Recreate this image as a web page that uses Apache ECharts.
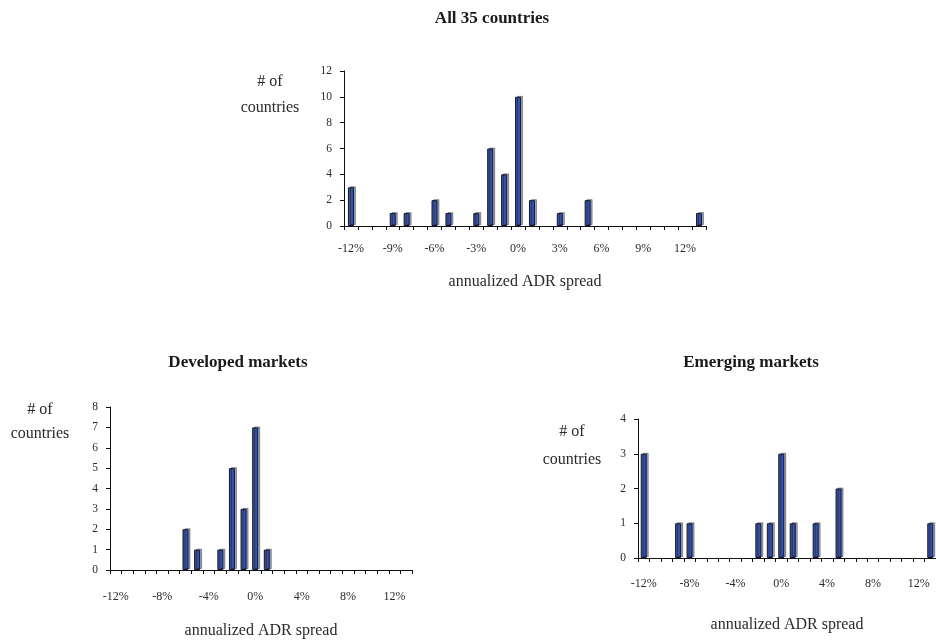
<!DOCTYPE html>
<html>
<head>
<meta charset="utf-8">
<script src="https://cdn.jsdelivr.net/npm/echarts@6/dist/echarts.min.js"></script>
<style>html,body{margin:0;padding:0;background:#fff}#c{width:936px;height:640px}</style>
</head>
<body>
<div id="c"></div>
<script>
// Spread bins (annualized ADR spread, %)
var categories = [-12,-11,-10,-9,-8,-7,-6,-5,-4,-3,-2,-1,0,1,2,3,4,5,6,7,8,9,10,11,12,13];
// Number of countries in each bin
var allCountries = [3,0,0,1,1,0,2,1,0,1,6,4,10,2,0,1,0,2,0,0,0,0,0,0,0,1];
var developed    = [0,0,0,0,0,0,2,1,0,1,5,3,7,1,0,0,0,0,0,0,0,0,0,0,0,0];
var emerging     = [3,0,0,1,1,0,0,0,0,0,1,1,3,1,0,1,0,2,0,0,0,0,0,0,0,1];
var titles = ['All 35 countries', 'Developed markets', 'Emerging markets'];
var yLabel = ['# of', 'countries'];
var xName = 'annualized ADR spread';

var FONT = '"Liberation Serif", "DejaVu Serif", serif';
var TXT = '#2a2a2a';
var chart = echarts.init(document.getElementById('c'), null, {renderer: 'canvas'});

var grids = [
  {left: 344, top: 71, width: 362, height: 155},
  {left: 110, top: 407, width: 302, height: 168},
  {left: 638, top: 419, width: 303, height: 139}
];
var labelInt = [2, 3, 3];
var labelMargin = [17, 21, 20];
var nameGap = [48, 53, 59];
var yMax = [12, 8, 4];
var yInt = [2, 1, 1];
var seriesData = [allCountries, developed, emerging];

function xAxis(i) {
  return {
    type: 'category', gridIndex: i, data: categories, boundaryGap: true,
    name: xName, nameLocation: 'middle', nameGap: nameGap[i],
    nameTextStyle: {fontFamily: FONT, fontSize: 16, color: TXT},
    axisLine: {lineStyle: {color: '#111', width: 1}},
    axisTick: {show: true, interval: 0, length: 4, lineStyle: {color: '#111'}},
    axisLabel: {interval: labelInt[i], margin: labelMargin[i], fontFamily: FONT, fontSize: 12, color: TXT,
      formatter: function (v) { return v + '%'; }},
    splitLine: {show: false}
  };
}
function yAxis(i) {
  return {
    type: 'value', gridIndex: i, min: 0, max: yMax[i], interval: yInt[i],
    axisLine: {show: true, lineStyle: {color: '#111', width: 1}},
    axisTick: {show: true, length: 4, lineStyle: {color: '#111'}},
    axisLabel: {margin: 12, fontFamily: FONT, fontSize: 11.5, color: TXT},
    splitLine: {show: false}
  };
}
function series(i) {
  return {
    type: 'bar', xAxisIndex: i, yAxisIndex: i, barWidth: 6,
    data: seriesData[i].map(function (v) { return v === 0 ? null : v; }),
    itemStyle: {color: '#3653a5', borderColor: '#141633', borderWidth: 1,
      shadowColor: 'rgba(0,0,0,0.35)', shadowOffsetX: 2, shadowOffsetY: -1, shadowBlur: 0},
    emphasis: {disabled: true}, silent: true
  };
}

var titlePos = [[492, 10], [238, 354], [751, 354]];
var yLabPos = [[270, 82, 108], [40, 410, 434], [572, 432, 460]];
var graphics = [];
for (var k = 0; k < 3; k++) {
  for (var j = 0; j < 2; j++) {
    graphics.push({type: 'text', x: yLabPos[k][0], y: yLabPos[k][1 + j],
      style: {text: yLabel[j], fontFamily: FONT, fontSize: 16, fill: TXT, textAlign: 'center', textVerticalAlign: 'middle'}});
  }
}

chart.setOption({
  animation: false,
  backgroundColor: '#fff',
  title: titlePos.map(function (p, i) {
    return {text: titles[i], left: p[0], top: p[1], textAlign: 'center', padding: 0,
      textStyle: {fontFamily: FONT, fontSize: 17, fontWeight: 'bold', color: '#1a1a1a'}};
  }),
  grid: grids,
  xAxis: [0, 1, 2].map(xAxis),
  yAxis: [0, 1, 2].map(yAxis),
  series: [0, 1, 2].map(series),
  graphic: graphics
});
</script>
</body>
</html>
